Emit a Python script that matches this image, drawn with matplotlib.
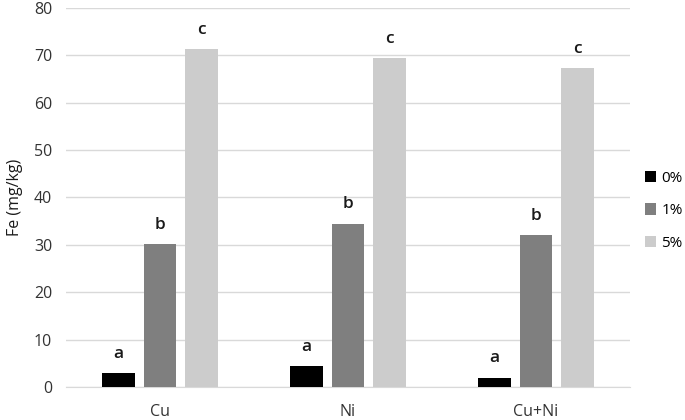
import matplotlib.pyplot as plt
import numpy as np

# data
categories = ["Cu", "Ni", "Cu+Ni"]
series = ["0%", "1%", "5%"]
fe_0 = [2.9, 4.4, 2.0]
fe_1 = [30.1, 34.5, 32.1]
fe_5 = [71.3, 69.4, 67.3]
letters_0 = ["a", "a", "a"]
letters_1 = ["b", "b", "b"]
letters_5 = ["c", "c", "c"]

colors = ["#000000", "#7f7f7f", "#cccccc"]

plt.rcParams["font.family"] = ["Open Sans", "DejaVu Sans"]

fig = plt.figure(figsize=(6.85, 4.2), dpi=100)
ax = fig.add_axes([0.0964, 0.0786, 0.8233, 0.9024])

x = np.arange(len(categories))
width = 0.175
offset = 0.222

for i, (vals, labs) in enumerate(zip([fe_0, fe_1, fe_5], [letters_0, letters_1, letters_5])):
    pos = x + (i - 1) * offset
    ax.bar(pos, vals, width, color=colors[i], label=series[i], zorder=3)
    for p, v, t in zip(pos, vals, labs):
        ax.annotate(t, (p, v), xytext=(0, 8), textcoords="offset points",
                    ha="center", va="bottom", fontsize=12.5, fontweight="semibold",
                    color="#1a1a1a")

ax.set_xlim(-0.5, 2.5)
ax.set_ylim(0, 80)
ax.set_yticks(range(0, 81, 10))
ax.set_xticks(x)
ax.set_xticklabels(categories)
ax.tick_params(length=0, labelsize=11.5, colors="#333333")
ax.tick_params(axis="x", pad=12)
ax.tick_params(axis="y", pad=10)

ax.grid(axis="y", color="#d9d9d9", linewidth=1, zorder=0)
for s in ["top", "right", "left"]:
    ax.spines[s].set_visible(False)
ax.spines["bottom"].set_color("#d9d9d9")

ax.set_ylabel("Fe (mg/kg)", fontsize=11.5, color="#1a1a1a", labelpad=8)

fig.legend(loc="center left", bbox_to_anchor=(0.941, 0.498), frameon=False,
           fontsize=11, handlelength=0.75, handleheight=0.75,
           handletextpad=0.35, labelspacing=1.15, borderaxespad=0, borderpad=0)

plt.savefig("out.png", dpi=100)
